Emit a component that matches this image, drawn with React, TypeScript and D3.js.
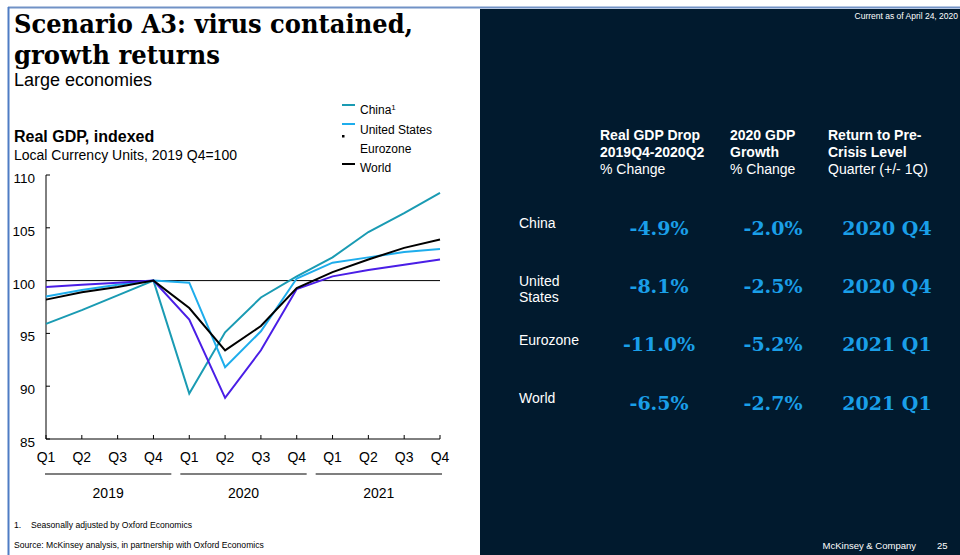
import React from "react";
import * as d3 from "d3";

const quarters = ["Q1", "Q2", "Q3", "Q4", "Q1", "Q2", "Q3", "Q4", "Q1", "Q2", "Q3", "Q4"];
const years = ["2019", "2020", "2021"];
const yTicks = [85, 90, 95, 100, 105, 110];

const china = [95.9, 97.2, 98.6, 100, 89.3, 95.1, 98.4, 100.4, 102.2, 104.6, 106.4, 108.3];
const unitedStates = [98.5, 99.1, 99.6, 100, 99.8, 91.8, 95.2, 100.2, 101.7, 102.2, 102.7, 103.0];
const eurozone = [99.4, 99.6, 99.8, 100, 96.3, 88.9, 93.4, 99.2, 100.4, 101.0, 101.5, 102.0];
const world = [98.2, 98.9, 99.4, 100, 97.4, 93.4, 95.7, 99.3, 100.8, 102.0, 103.1, 103.9];

const seriesNames = ["China", "United States", "Eurozone", "World"];
const seriesColors = ["#1a9bb3", "#1eadec", "#4a1ee6", "#000000"];

const tableRows = ["China", "United States", "Eurozone", "World"];
const gdpDrop = ["-4.9%", "-8.1%", "-11.0%", "-6.5%"];
const gdpGrowth2020 = ["-2.0%", "-2.5%", "-5.2%", "-2.7%"];
const returnQuarter = ["2020 Q4", "2020 Q4", "2021 Q1", "2021 Q1"];

const sans = "Arial, 'Liberation Sans', Helvetica, sans-serif";
const serif = "Georgia, 'DejaVu Serif', serif";

export default function App() {
  const x = d3.scalePoint<number>().domain(d3.range(quarters.length)).range([46, 440]);
  const y = d3.scaleLinear().domain([85, 110]).range([439, 175]);
  const line = d3
    .line<number>()
    .x((_, i) => x(i) as number)
    .y((d) => y(d));
  const allSeries = [china, unitedStates, eurozone, world];

  const segGap = 9;
  const segStart = 45;
  const segEnd = 442;
  const segW = (segEnd - segStart - segGap * 2) / 3;

  const rowY = [228, 286, 344, 403];
  const rowLabelY = [[223], [281, 297], [340], [398]];
  const colX = [659, 773, 887];

  return (
    <svg
      width={960}
      height={555}
      style={{ position: "absolute", left: 0, top: 0, display: "block", background: "#ffffff" }}
    >
      {/* frame */}
      <rect x={480} y={9} width={480} height={546} fill="#011a2e" />
      <line x1={8} x2={960} y1={7.5} y2={7.5} stroke="#7192c6" strokeWidth={2} />
      <line x1={8.5} x2={8.5} y1={7} y2={555} stroke="#4f7cc4" strokeWidth={2} />

      {/* title */}
      <text x={14} y={33} fontFamily={serif} fontWeight="bold" fontSize={26} fill="#000" textLength={399} lengthAdjust="spacingAndGlyphs">
        Scenario A3: virus contained,
      </text>
      <text x={14} y={64} fontFamily={serif} fontWeight="bold" fontSize={26} fill="#000" textLength={206} lengthAdjust="spacingAndGlyphs">
        growth returns
      </text>
      <text x={14} y={86} fontFamily={sans} fontSize={18} fill="#000">
        Large economies
      </text>

      <text x={14} y={142} fontFamily={sans} fontWeight="bold" fontSize={16} fill="#000">
        Real GDP, indexed
      </text>
      <text x={14} y={160} fontFamily={sans} fontSize={14} fill="#000">
        Local Currency Units, 2019 Q4=100
      </text>

      {/* legend */}
      <g fontFamily={sans} fontSize={12} fill="#000">
        <line x1={342} x2={355} y1={105} y2={105} stroke={seriesColors[0]} strokeWidth={2} />
        <text x={360} y={114}>
          China<tspan fontSize={8} dy={-4}>1</tspan>
        </text>
        <line x1={342} x2={355} y1={124} y2={124} stroke={seriesColors[1]} strokeWidth={2} />
        <rect x={342} y={135} width={2.5} height={2.5} fill="#000" />
        <text x={360} y={134}>{seriesNames[1]}</text>
        <text x={360} y={153}>{seriesNames[2]}</text>
        <line x1={342} x2={355} y1={164} y2={164} stroke={seriesColors[3]} strokeWidth={2} />
        <text x={360} y={172}>{seriesNames[3]}</text>
      </g>

      {/* axes */}
      <line x1={46} x2={46} y1={y(110)} y2={y(85)} stroke="#000" strokeWidth={1} />
      <line x1={46} x2={440} y1={y(85)} y2={y(85)} stroke="#000" strokeWidth={1} />
      {yTicks.map((t) => (
        <g key={t}>
          <line x1={46} x2={50} y1={y(t)} y2={y(t)} stroke="#000" />
          <text x={35} y={y(t) + 8} textAnchor="end" fontFamily={sans} fontSize={13.5} fill="#000">
            {t}
          </text>
        </g>
      ))}
      {quarters.map((q, i) => (
        <g key={i}>
          <line x1={x(i)} x2={x(i)} y1={y(85)} y2={y(85) - 4} stroke="#000" />
          <text x={x(i)} y={462} textAnchor="middle" fontFamily={sans} fontSize={14} fill="#000">
            {q}
          </text>
        </g>
      ))}
      {years.map((yr, i) => {
        const s = segStart + i * (segW + segGap);
        return (
          <g key={yr}>
            <line x1={s} x2={s + segW} y1={474} y2={474} stroke="#000" strokeWidth={1.2} />
            <text x={s + segW / 2} y={498} textAnchor="middle" fontFamily={sans} fontSize={14} fill="#000">
              {yr}
            </text>
          </g>
        );
      })}

      {/* reference line at 100 */}
      <line x1={46} x2={440} y1={y(100)} y2={y(100)} stroke="#000" strokeWidth={1} />

      {/* series */}
      {[0, 1, 2, 3].map((k) => (
        <path key={k} d={line(allSeries[k]) || ""} fill="none" stroke={seriesColors[k]} strokeWidth={2} strokeLinejoin="miter" />
      ))}

      {/* footnotes */}
      <text x={14} y={528} fontFamily={sans} fontSize={8.6} fill="#000">
        1.<tspan x={31}>Seasonally adjusted by Oxford Economics</tspan>
      </text>
      <text x={14} y={548} fontFamily={sans} fontSize={8.6} fill="#000">
        Source: McKinsey analysis, in partnership with Oxford Economics
      </text>

      {/* right panel */}
      <text x={958} y={19} textAnchor="end" fontFamily={sans} fontSize={8.5} fill="#fff">
        Current as of April 24, 2020
      </text>
      <g fontFamily={sans} fontSize={14} fill="#fff">
        <text x={600} y={140} fontWeight="bold">Real GDP Drop</text>
        <text x={600} y={157} fontWeight="bold">2019Q4-2020Q2</text>
        <text x={600} y={174}>% Change</text>
        <text x={730} y={140} fontWeight="bold">2020 GDP</text>
        <text x={730} y={157} fontWeight="bold">Growth</text>
        <text x={730} y={174}>% Change</text>
        <text x={828} y={140} fontWeight="bold">Return to Pre-</text>
        <text x={828} y={157} fontWeight="bold">Crisis Level</text>
        <text x={828} y={174}>Quarter (+/- 1Q)</text>
      </g>
      <g fontFamily={sans} fontSize={14} fill="#fff">
        {tableRows.map((r, i) => {
          const parts = r === "United States" ? ["United", "States"] : [r];
          return parts.map((p, j) => (
            <text key={r + j} x={519} y={rowLabelY[i][j] + 5}>
              {p}
            </text>
          ));
        })}
      </g>
      <g fontFamily={serif} fontWeight="bold" fontSize={19} fill="#1a9fe8" textAnchor="middle">
        {tableRows.map((r, i) => (
          <g key={r}>
            <text x={colX[0]} y={rowY[i] + 7}>{gdpDrop[i]}</text>
            <text x={colX[1]} y={rowY[i] + 7}>{gdpGrowth2020[i]}</text>
            <text x={colX[2]} y={rowY[i] + 7}>{returnQuarter[i]}</text>
          </g>
        ))}
      </g>
      <text x={916} y={549} textAnchor="end" fontFamily={sans} fontSize={9.5} fill="#fff">
        McKinsey &amp; Company
      </text>
      <text x={937} y={549} fontFamily={sans} fontSize={9.5} fill="#fff">
        25
      </text>
    </svg>
  );
}
